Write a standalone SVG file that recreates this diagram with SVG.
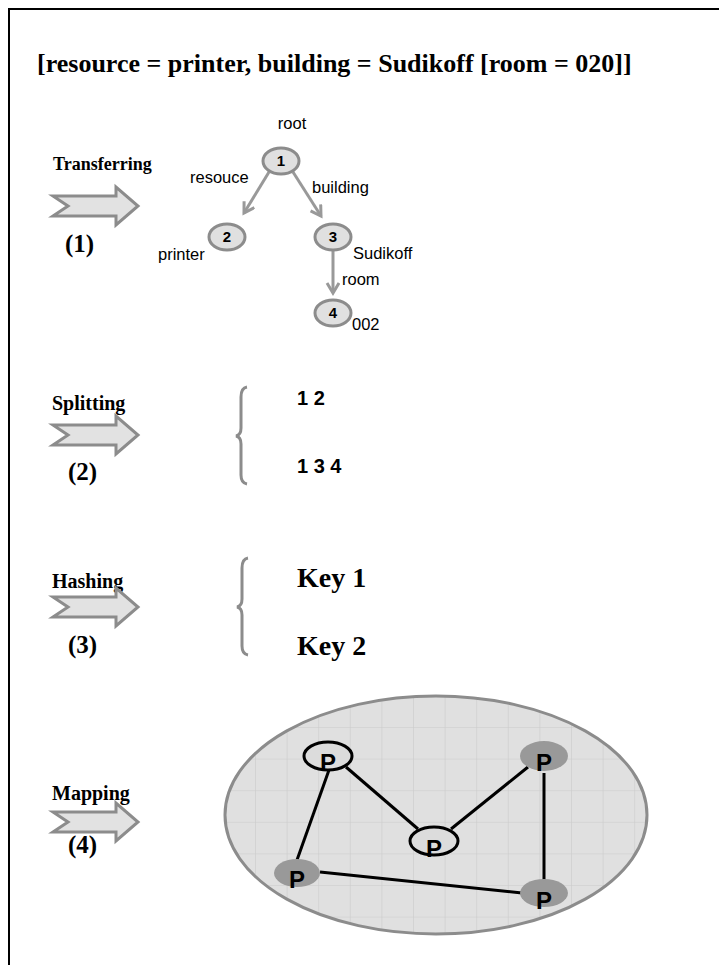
<svg xmlns="http://www.w3.org/2000/svg" width="719" height="965" viewBox="0 0 719 965">
<style>
.title{font-family:"Liberation Serif",serif;font-weight:bold;font-size:26px;fill:#000}
.step{font-family:"Liberation Serif",serif;font-weight:bold;font-size:20px;fill:#000}
.num{font-family:"Liberation Serif",serif;font-weight:bold;font-size:25px;fill:#000}
.lbl{font-family:"Liberation Sans",sans-serif;font-size:16.5px;fill:#000}
.nid{font-family:"Liberation Sans",sans-serif;font-weight:bold;font-size:15px;fill:#000;text-anchor:middle}
.seq{font-family:"Liberation Sans",sans-serif;font-weight:bold;font-size:20px;fill:#000}
.key{font-family:"Liberation Serif",serif;font-weight:bold;font-size:28px;fill:#000}
.p{font-family:"Liberation Sans",sans-serif;font-weight:bold;font-size:24px;fill:#000;text-anchor:middle}
.tnode{fill:#e0e0e0;stroke:#8c8c8c;stroke-width:3}
.tedge{stroke:#999;stroke-width:3;fill:none}
.blk{fill:#e2e2e2;stroke:#8c8c8c;stroke-width:3;stroke-linejoin:miter}
.brace{fill:none;stroke:#8c8c8c;stroke-width:3}
.pout{fill:#dcdcdc;stroke:#000;stroke-width:3}
.pfill{fill:#999;stroke:none}
.link{stroke:#000;stroke-width:3}
</style>
<defs>
<marker id="vh" markerUnits="userSpaceOnUse" markerWidth="16" markerHeight="16" refX="11" refY="7" orient="auto">
<path d="M1,1 L11,7 L1,13" fill="none" stroke="#999" stroke-width="3"/>
</marker>
<path id="blockArrow" d="M0,-10 L63,-10 L63,-19 L85,0 L63,19 L63,10 L0,10 L15,0 Z"/>
<pattern id="grid" patternUnits="userSpaceOnUse" x="255" y="727" width="31.6" height="31.6">
<rect width="31.6" height="31.6" fill="#e0e0e0"/>
<path d="M0,0 V31.6 M0,0 H31.6" stroke="#cbcbcb" stroke-width="1.2"/>
</pattern>
</defs>

<path d="M9,965 V9 H719" fill="none" stroke="#000" stroke-width="2"/>

<text class="title" x="37" y="72">[resource = printer, building = Sudikoff [room = 020]]</text>

<g id="step1">
<text class="step" x="53" y="170" style="font-size:18px">Transferring</text>
<use href="#blockArrow" class="blk" transform="translate(53,206)"/>
<text class="num" x="65" y="252">(1)</text>
</g>

<g id="network">
<ellipse cx="436" cy="815" rx="211" ry="119" fill="url(#grid)" stroke="#8c8c8c" stroke-width="3"/>
</g>

<g id="connectors">
<line class="tedge" x1="269" y1="172" x2="244" y2="213" marker-end="url(#vh)"/>
<line class="tedge" x1="293" y1="172" x2="321" y2="216" marker-end="url(#vh)"/>
<line class="tedge" x1="333" y1="251" x2="333" y2="293" marker-end="url(#vh)"/>
<line class="link" x1="346" y1="767" x2="418" y2="829"/>
<line class="link" x1="451" y1="829" x2="528" y2="767"/>
<line class="link" x1="329" y1="770" x2="297" y2="860"/>
<line class="link" x1="544" y1="773" x2="544" y2="880"/>
<line class="link" x1="320" y1="872" x2="522" y2="893"/>
</g>

<g id="tree">
<text class="lbl" x="292" y="129" text-anchor="middle">root</text>
<g id="n1"><ellipse class="tnode" cx="281" cy="161" rx="18" ry="13"/><text class="nid" x="281" y="166">1</text></g>
<g id="n2"><ellipse class="tnode" cx="227" cy="237" rx="18" ry="13"/><text class="nid" x="227" y="242">2</text></g>
<g id="n3"><ellipse class="tnode" cx="333" cy="237" rx="18" ry="13"/><text class="nid" x="333" y="242">3</text></g>
<g id="n4"><ellipse class="tnode" cx="333" cy="313" rx="18" ry="13"/><text class="nid" x="333" y="318">4</text></g>
<text class="lbl" x="190" y="183">resouce</text>
<text class="lbl" x="312" y="193">building</text>
<text class="lbl" x="158" y="260">printer</text>
<text class="lbl" x="353" y="259">Sudikoff</text>
<text class="lbl" x="342" y="285">room</text>
<text class="lbl" x="352" y="330">002</text>
</g>

<g id="step2">
<text class="step" x="52" y="410">Splitting</text>
<use href="#blockArrow" class="blk" transform="translate(53,435)"/>
<text class="num" x="68" y="480">(2)</text>
<path class="brace" d="M247,387 Q241,388 241,397 L241,428 Q241,435 236,436 Q241,437 241,444 L241,475 Q241,483 247,484"/>
<text class="seq" x="297" y="405">1 2</text>
<text class="seq" x="297" y="473">1 3 4</text>
</g>

<g id="step3">
<text class="step" x="52" y="588">Hashing</text>
<use href="#blockArrow" class="blk" transform="translate(53,607)"/>
<text class="num" x="68" y="653">(3)</text>
<path class="brace" d="M248,558 Q242,559 242,568 L242,599 Q242,606 237,607 Q242,608 242,615 L242,646 Q242,654 248,655"/>
<text class="key" x="297" y="587">Key 1</text>
<text class="key" x="297" y="655">Key 2</text>
</g>

<g id="step4">
<text class="step" x="52" y="800">Mapping</text>
<use href="#blockArrow" class="blk" transform="translate(53,822)"/>
<text class="num" x="68" y="853">(4)</text>
</g>

<g id="p1"><ellipse class="pout" cx="328" cy="756" rx="24" ry="14"/><text class="p" x="328" y="771">P</text></g>
<g id="p2"><ellipse class="pfill" cx="544" cy="756" rx="24" ry="15"/><text class="p" x="544" y="771">P</text></g>
<g id="p3"><ellipse class="pout" cx="434" cy="841" rx="24" ry="14"/><text class="p" x="434" y="857">P</text></g>
<g id="p4"><ellipse class="pfill" cx="297" cy="873" rx="23" ry="14"/><text class="p" x="297" y="888">P</text></g>
<g id="p5"><ellipse class="pfill" cx="544" cy="893" rx="24" ry="14"/><text class="p" x="544" y="909">P</text></g>
</svg>
